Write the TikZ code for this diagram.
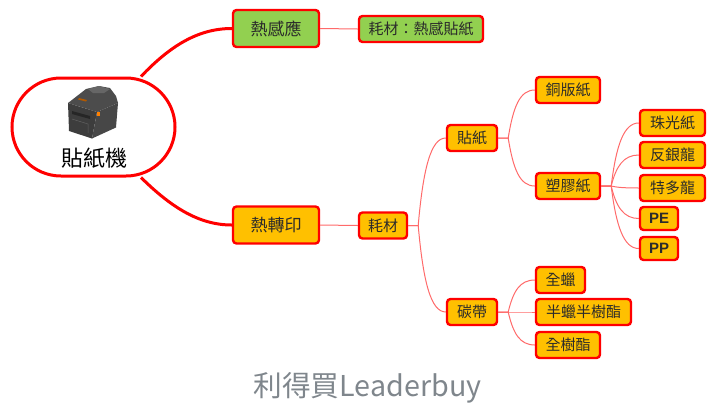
\documentclass[tikz,border=0pt]{standalone}
\usepackage{fontspec}
\setmainfont{Noto Sans CJK TC}
\newfontfamily\latinbold[BoldFont=Liberation Sans Bold]{Liberation Sans}
\usetikzlibrary{calc}
\definecolor{boxorange}{HTML}{FFC000}
\definecolor{boxgreen}{HTML}{92D050}
\definecolor{inkgray}{HTML}{2B2B2B}
\definecolor{thinred}{HTML}{FF6A6A}
\definecolor{titlegray}{HTML}{7F868C}
\tikzset{
	mainbox/.style={draw=red, line width=2.4pt, rounded corners=3.5pt, fill=boxorange, text=inkgray, inner sep=0pt, minimum height=37pt, font=\fontsize{17}{17}\selectfont},
	leafbox/.style={mainbox, minimum height=26pt, font=\fontsize{15}{15}\selectfont},
	thinlink/.style={draw=thinred, line width=1pt},
	thicklink/.style={draw=red, line width=3pt}
}
\def\branchline(#1)(#2){
	\coordinate (fork) at ($(#1.east)+(10pt,0)$);
	\draw[thinlink] (#1.east) -- (fork) .. controls ($(fork)!.65!(fork|-#2.west)+(5pt,0)$) and ($(#2.west)+(-15pt,0)$) .. (#2.west);
}

\begin{document}
\begin{tikzpicture}[x=1pt, y=-1pt]
	\useasboundingbox (0,0) rectangle (720,416);
	
	%%%%% CENTRE %%%%%
	\node[draw=red, line width=3pt, rounded corners=49pt, minimum width=163pt, minimum height=98pt, inner sep=0pt] (printer) at (93.5,127) {};
	\node[font=\fontsize{22}{22}\selectfont, text=black, inner sep=0pt] (printername) at (94.5,158) {貼紙機};
	
	% the printer itself
	\fill[black!76] (68,103) -- (69,131) -- (92,138.5) -- (97,112) -- cycle;
	\fill[black!72] (97,112) -- (92,138.5) -- (116,127.5) -- (118,103) -- cycle;
	\fill[black!70] (68,103) -- (86,89) -- (99,86) -- (110,88) -- (116,96) -- (118,103) -- (97,112) -- cycle;
	\fill[black!60] (88,89) -- (99,86) -- (110,89) -- (104,93) -- (93,93) -- cycle;
	\fill[black!85] (72,111) -- (90,116) -- (90,119) -- (72,114) -- cycle;
	\draw[black!62, line width=0.5pt] (72,119) -- (88,124) -- (88,133);
	\fill[orange] (97,112) rectangle (100,115.5);
	\fill[orange!70!black] (79,98) -- (87,100) -- (86,101.5) -- (78,99.5) -- cycle;
	
	%%%%% UPPER BRANCH %%%%%
	\node[mainbox, fill=boxgreen, minimum width=86pt] (thermal) at (276,28.5) {熱感應};
	\node[leafbox, fill=boxgreen, minimum width=124pt] (thermalsupply) at (421,29) {耗材：熱感貼紙};
	
	%%%%% LOWER BRANCH %%%%%
	\node[mainbox, minimum width=86pt] (transfer) at (276,225) {熱轉印};
	\node[leafbox, minimum width=48pt] (supply) at (383,225.5) {耗材};
	
	\node[leafbox, minimum width=50pt] (sticker) at (472,138) {貼紙};
	\node[leafbox, minimum width=64pt] (coated) at (568,90) {銅版紙};
	\node[leafbox, minimum width=64pt] (plastic) at (568,186) {塑膠紙};
	
	\node[leafbox, minimum width=65pt] (pearl) at (672.5,123) {珠光紙};
	\node[leafbox, minimum width=65pt] (silver) at (672.5,155) {反銀龍};
	\node[leafbox, minimum width=65pt] (pet) at (672.5,188) {特多龍};
	\node[leafbox, minimum width=38pt, minimum height=23pt, font=\latinbold\bfseries\fontsize{15}{15}\selectfont] (pe) at (659,218.5) {PE};
	\node[leafbox, minimum width=38pt, minimum height=23pt, font=\latinbold\bfseries\fontsize{15}{15}\selectfont] (pp) at (659,248.5) {PP};
	
	\node[leafbox, minimum width=50pt] (ribbon) at (472,312) {碳帶};
	\node[leafbox, minimum width=49pt] (wax) at (560.5,280) {全蠟};
	\node[leafbox, minimum width=95pt] (waxresin) at (583.5,312) {半蠟半樹酯};
	\node[leafbox, minimum width=64pt] (resin) at (568,345) {全樹酯};
	
	\node[font=\fontsize{28.7}{29}\selectfont, text=titlegray, inner sep=0pt] (brand) at (367.5,388) {利得買Leaderbuy};
	
	%%%%% CONNECTORS %%%%%
	\draw[thicklink] ([xshift=47.5pt]printer.north) .. controls (170,46) and (198,28.5) .. (thermal.west);
	\draw[thicklink] ([xshift=47.5pt]printer.south) .. controls (170,206) and (198,225) .. (transfer.west);
	\draw[thinlink] (thermal.east) -- (thermalsupply.west);
	\draw[thinlink] (transfer.east) -- (supply.west);
	
	\branchline(supply)(sticker)
	\branchline(supply)(ribbon)
	\branchline(sticker)(coated)
	\branchline(sticker)(plastic)
	\branchline(plastic)(pearl)
	\branchline(plastic)(silver)
	\branchline(plastic)(pet)
	\branchline(plastic)(pe)
	\branchline(plastic)(pp)
	\branchline(ribbon)(wax)
	\branchline(ribbon)(waxresin)
	\branchline(ribbon)(resin)
\end{tikzpicture}
\end{document}
